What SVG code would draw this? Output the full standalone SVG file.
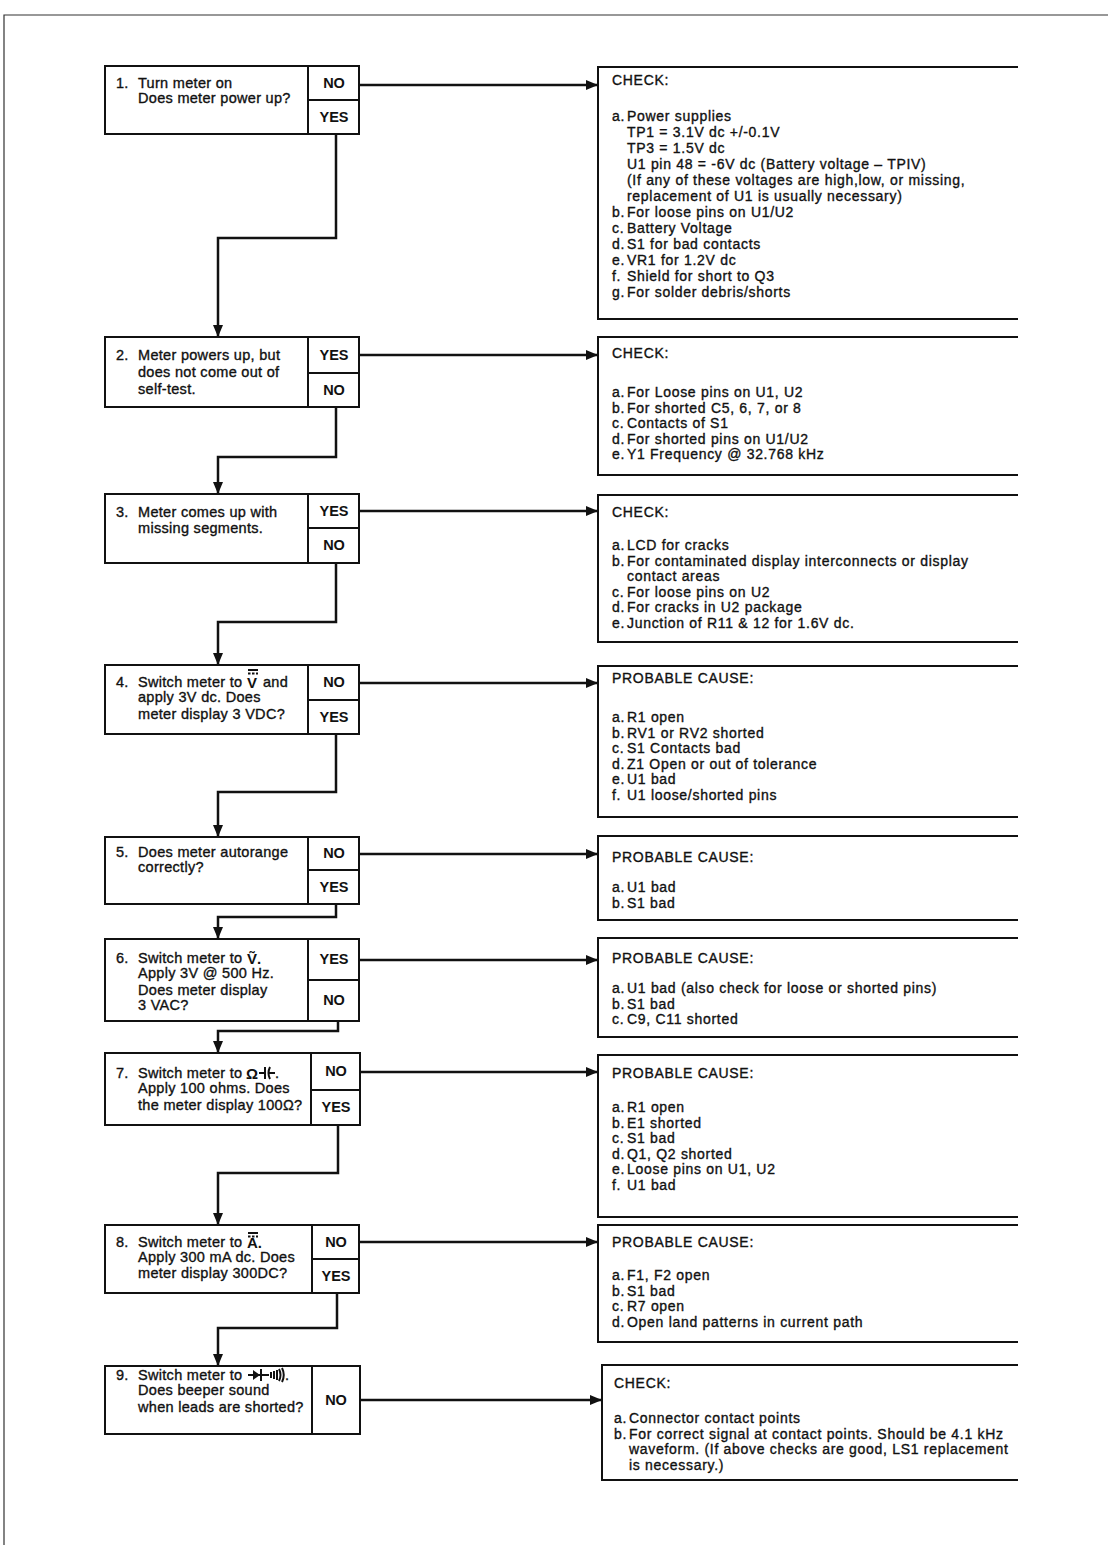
<svg xmlns="http://www.w3.org/2000/svg" width="1108" height="1559" viewBox="0 0 1108 1559">
<style>
.t{font-family:"Liberation Sans",Arial,sans-serif;font-size:14px;letter-spacing:0.7px;fill:#111;stroke:#111;stroke-width:0.35;}
.l{font-family:"Liberation Sans",Arial,sans-serif;font-size:14.5px;letter-spacing:0.3px;fill:#111;stroke:#111;stroke-width:0.35;}
.s{font-family:"Liberation Sans","DejaVu Sans",sans-serif;font-size:15px;font-weight:bold;fill:#111;}
.b{font-family:"Liberation Sans",Arial,sans-serif;font-size:14.5px;font-weight:bold;fill:#111;text-anchor:middle;}
.box{fill:#fff;stroke:#111;stroke-width:2;}
.ln{fill:none;stroke:#111;stroke-width:2;}
.rb{fill:none;stroke:#111;stroke-width:2;}
.c{fill:none;stroke:#111;stroke-width:2.5;}
.frame{fill:none;stroke:#333;stroke-width:1.2;}
</style>
<defs>
<marker id="ah" markerUnits="userSpaceOnUse" markerWidth="12" markerHeight="10" refX="11" refY="5" orient="auto">
<path d="M0,0 L12,5 L0,10 z" fill="#111"/>
</marker>
</defs>
<rect width="1108" height="1559" fill="#fff"/>
<path class="frame" d="M1108,15 H4 V1545"/>

<g id="connectors">
<path class="c" d="M336,134 V238 H218 V336" marker-end="url(#ah)"/>
<path class="c" d="M336,407 V457 H218 V493" marker-end="url(#ah)"/>
<path class="c" d="M336,563 V622 H218 V664" marker-end="url(#ah)"/>
<path class="c" d="M336,734 V792 H218 V836" marker-end="url(#ah)"/>
<path class="c" d="M336,904 V917 H218 V938" marker-end="url(#ah)"/>
<path class="c" d="M338,1021 V1031 H218 V1052" marker-end="url(#ah)"/>
<path class="c" d="M338,1125 V1173 H218 V1224" marker-end="url(#ah)"/>
<path class="c" d="M337,1293 V1328 H218 V1365" marker-end="url(#ah)"/>
<path class="c" d="M359,85 H597" marker-end="url(#ah)"/>
<path class="c" d="M359,355 H597" marker-end="url(#ah)"/>
<path class="c" d="M359,511 H597" marker-end="url(#ah)"/>
<path class="c" d="M359,683 H597" marker-end="url(#ah)"/>
<path class="c" d="M359,854 H597" marker-end="url(#ah)"/>
<path class="c" d="M359,960 H597" marker-end="url(#ah)"/>
<path class="c" d="M360,1072 H597" marker-end="url(#ah)"/>
<path class="c" d="M360,1242 H597" marker-end="url(#ah)"/>
<path class="c" d="M360,1400 H601" marker-end="url(#ah)"/>
</g>

<g id="step1">
<rect class="box" x="105" y="66" width="254" height="68"/>
<path class="ln" d="M308,66 V134 M308,100 H359"/>
<text class="l" x="116" y="88">1.</text>
<text class="l" x="138" y="88">Turn meter on</text>
<text class="l" x="138" y="103">Does meter power up?</text>
<text class="b" x="334" y="88">NO</text>
<text class="b" x="334" y="122">YES</text>
</g>

<g id="step2">
<rect class="box" x="105" y="337" width="254" height="70"/>
<path class="ln" d="M308,337 V407 M308,373 H359"/>
<text class="l" x="116" y="360">2.</text>
<text class="l" x="138" y="360">Meter powers up, but</text>
<text class="l" x="138" y="377">does not come out of</text>
<text class="l" x="138" y="394">self-test.</text>
<text class="b" x="334" y="360">YES</text>
<text class="b" x="334" y="395">NO</text>
</g>

<g id="step3">
<rect class="box" x="105" y="494" width="254" height="69"/>
<path class="ln" d="M308,494 V563 M308,528 H359"/>
<text class="l" x="116" y="517">3.</text>
<text class="l" x="138" y="517">Meter comes up with</text>
<text class="l" x="138" y="533">missing segments.</text>
<text class="b" x="334" y="516">YES</text>
<text class="b" x="334" y="550">NO</text>
</g>

<g id="step4">
<rect class="box" x="105" y="665" width="254" height="69"/>
<path class="ln" d="M308,665 V734 M308,700 H359"/>
<text class="l" x="116" y="687">4.</text>
<text class="l" x="138" y="687">Switch meter to</text>
<text class="s" x="247" y="688">V</text>
<path class="ln" d="M248,670 H258" stroke-width="1.5"/>
<path class="ln" d="M248,673.5 H258" stroke-width="1.5" stroke-dasharray="2.5,1.5"/>
<text class="l" x="263" y="687">and</text>
<text class="l" x="138" y="702">apply 3V dc. Does</text>
<text class="l" x="138" y="719">meter display 3 VDC?</text>
<text class="b" x="334" y="687">NO</text>
<text class="b" x="334" y="722">YES</text>
</g>

<g id="step5">
<rect class="box" x="105" y="837" width="254" height="67"/>
<path class="ln" d="M308,837 V904 M308,870 H359"/>
<text class="l" x="116" y="857">5.</text>
<text class="l" x="138" y="857">Does meter autorange</text>
<text class="l" x="138" y="872">correctly?</text>
<text class="b" x="334" y="858">NO</text>
<text class="b" x="334" y="892">YES</text>
</g>

<g id="step6">
<rect class="box" x="105" y="939" width="254" height="82"/>
<path class="ln" d="M308,939 V1021 M308,980 H359"/>
<text class="l" x="116" y="963">6.</text>
<text class="l" x="138" y="963">Switch meter to</text>
<text class="s" x="247" y="964">Ṽ.</text>
<text class="l" x="138" y="978">Apply 3V @ 500 Hz.</text>
<text class="l" x="138" y="995">Does meter display</text>
<text class="l" x="138" y="1010">3 VAC?</text>
<text class="b" x="334" y="964">YES</text>
<text class="b" x="334" y="1005">NO</text>
</g>

<g id="step7">
<rect class="box" x="105" y="1053" width="255" height="72"/>
<path class="ln" d="M311,1053 V1125 M311,1090 H360"/>
<text class="l" x="116" y="1078">7.</text>
<text class="l" x="138" y="1078">Switch meter to</text>
<text class="s" x="246" y="1079" font-size="16">Ω</text>
<path class="ln" d="M259,1073 H265 M265,1067 V1079 M270,1067 Q267,1073 270,1079 M268,1073 H275" stroke-width="1.5"/>
<text class="l" x="275" y="1078">.</text>
<text class="l" x="138" y="1093">Apply 100 ohms. Does</text>
<text class="l" x="138" y="1110">the meter display 100Ω?</text>
<text class="b" x="336" y="1076">NO</text>
<text class="b" x="336" y="1112">YES</text>
</g>

<g id="step8">
<rect class="box" x="105" y="1225" width="254" height="68"/>
<path class="ln" d="M312,1225 V1293 M312,1259 H359"/>
<text class="l" x="116" y="1247">8.</text>
<text class="l" x="138" y="1247">Switch meter to</text>
<text class="s" x="247" y="1248">A.</text>
<path class="ln" d="M248,1233 H258" stroke-width="1.5"/>
<path class="ln" d="M248,1236.5 H258" stroke-width="1.5" stroke-dasharray="2.5,1.5"/>
<text class="l" x="138" y="1262">Apply 300 mA dc. Does</text>
<text class="l" x="138" y="1278">meter display 300DC?</text>
<text class="b" x="336" y="1247">NO</text>
<text class="b" x="336" y="1281">YES</text>
</g>

<g id="step9">
<rect class="box" x="105" y="1366" width="255" height="68"/>
<path class="ln" d="M312,1366 V1434"/>
<text class="l" x="116" y="1380">9.</text>
<text class="l" x="138" y="1380">Switch meter to</text>
<path class="ln" d="M248,1375 H269" stroke-width="1.5"/>
<path d="M253,1370 L260,1375 L253,1380 z" fill="#111"/>
<path class="ln" d="M261,1369 V1381 M271,1372 V1378 M274,1371 V1379 M277,1370 V1380 M279,1369 Q282,1375 279,1381 M282,1368 Q285.5,1375 282,1382" stroke-width="1.4"/>
<text class="l" x="285" y="1380">.</text>
<text class="l" x="138" y="1395">Does beeper sound</text>
<text class="l" x="138" y="1412">when leads are shorted?</text>
<text class="b" x="336" y="1405">NO</text>
</g>

<g id="result1">
<path class="rb" d="M1018,67 H598 V319 H1018"/>
<text class="t" x="612" y="85">CHECK:</text>
<text class="t" x="612" y="121">a.</text><text class="t" x="627" y="121">Power supplies</text>
<text class="t" x="627" y="137">TP1 = 3.1V dc +/-0.1V</text>
<text class="t" x="627" y="153">TP3 = 1.5V dc</text>
<text class="t" x="627" y="169">U1 pin 48 = -6V dc (Battery voltage – TPIV)</text>
<text class="t" x="627" y="185">(If any of these voltages are high,low, or missing,</text>
<text class="t" x="627" y="201">replacement of U1 is usually necessary)</text>
<text class="t" x="612" y="217">b.</text><text class="t" x="627" y="217">For loose pins on U1/U2</text>
<text class="t" x="612" y="233">c.</text><text class="t" x="627" y="233">Battery Voltage</text>
<text class="t" x="612" y="249">d.</text><text class="t" x="627" y="249">S1 for bad contacts</text>
<text class="t" x="612" y="265">e.</text><text class="t" x="627" y="265">VR1 for 1.2V dc</text>
<text class="t" x="612" y="281">f.</text><text class="t" x="627" y="281">Shield for short to Q3</text>
<text class="t" x="612" y="297">g.</text><text class="t" x="627" y="297">For solder debris/shorts</text>
</g>

<g id="result2">
<path class="rb" d="M1018,337 H598 V475 H1018"/>
<text class="t" x="612" y="358">CHECK:</text>
<text class="t" x="612" y="397">a.</text><text class="t" x="627" y="397">For Loose pins on U1, U2</text>
<text class="t" x="612" y="412.5">b.</text><text class="t" x="627" y="412.5">For shorted C5, 6, 7, or 8</text>
<text class="t" x="612" y="428">c.</text><text class="t" x="627" y="428">Contacts of S1</text>
<text class="t" x="612" y="443.5">d.</text><text class="t" x="627" y="443.5">For shorted pins on U1/U2</text>
<text class="t" x="612" y="459">e.</text><text class="t" x="627" y="459">Y1 Frequency @ 32.768 kHz</text>
</g>

<g id="result3">
<path class="rb" d="M1018,495 H598 V642 H1018"/>
<text class="t" x="612" y="517">CHECK:</text>
<text class="t" x="612" y="550">a.</text><text class="t" x="627" y="550">LCD for cracks</text>
<text class="t" x="612" y="565.5">b.</text><text class="t" x="627" y="565.5">For contaminated display interconnects or display</text>
<text class="t" x="627" y="581">contact areas</text>
<text class="t" x="612" y="596.5">c.</text><text class="t" x="627" y="596.5">For loose pins on U2</text>
<text class="t" x="612" y="612">d.</text><text class="t" x="627" y="612">For cracks in U2 package</text>
<text class="t" x="612" y="627.5">e.</text><text class="t" x="627" y="627.5">Junction of R11 &amp; 12 for 1.6V dc.</text>
</g>

<g id="result4">
<path class="rb" d="M1018,666 H598 V817 H1018"/>
<text class="t" x="612" y="683">PROBABLE CAUSE:</text>
<text class="t" x="612" y="722">a.</text><text class="t" x="627" y="722">R1 open</text>
<text class="t" x="612" y="737.5">b.</text><text class="t" x="627" y="737.5">RV1 or RV2 shorted</text>
<text class="t" x="612" y="753">c.</text><text class="t" x="627" y="753">S1 Contacts bad</text>
<text class="t" x="612" y="768.5">d.</text><text class="t" x="627" y="768.5">Z1 Open or out of tolerance</text>
<text class="t" x="612" y="784">e.</text><text class="t" x="627" y="784">U1 bad</text>
<text class="t" x="612" y="799.5">f.</text><text class="t" x="627" y="799.5">U1 loose/shorted pins</text>
</g>

<g id="result5">
<path class="rb" d="M1018,836 H598 V920 H1018"/>
<text class="t" x="612" y="862">PROBABLE CAUSE:</text>
<text class="t" x="612" y="892">a.</text><text class="t" x="627" y="892">U1 bad</text>
<text class="t" x="612" y="907.5">b.</text><text class="t" x="627" y="907.5">S1 bad</text>
</g>

<g id="result6">
<path class="rb" d="M1018,938 H598 V1037 H1018"/>
<text class="t" x="612" y="963">PROBABLE CAUSE:</text>
<text class="t" x="612" y="993">a.</text><text class="t" x="627" y="993">U1 bad (also check for loose or shorted pins)</text>
<text class="t" x="612" y="1008.5">b.</text><text class="t" x="627" y="1008.5">S1 bad</text>
<text class="t" x="612" y="1024">c.</text><text class="t" x="627" y="1024">C9, C11 shorted</text>
</g>

<g id="result7">
<path class="rb" d="M1018,1055 H598 V1217 H1018"/>
<text class="t" x="612" y="1078">PROBABLE CAUSE:</text>
<text class="t" x="612" y="1112">a.</text><text class="t" x="627" y="1112">R1 open</text>
<text class="t" x="612" y="1127.5">b.</text><text class="t" x="627" y="1127.5">E1 shorted</text>
<text class="t" x="612" y="1143">c.</text><text class="t" x="627" y="1143">S1 bad</text>
<text class="t" x="612" y="1158.5">d.</text><text class="t" x="627" y="1158.5">Q1, Q2 shorted</text>
<text class="t" x="612" y="1174">e.</text><text class="t" x="627" y="1174">Loose pins on U1, U2</text>
<text class="t" x="612" y="1189.5">f.</text><text class="t" x="627" y="1189.5">U1 bad</text>
</g>

<g id="result8">
<path class="rb" d="M1018,1225 H598 V1342 H1018"/>
<text class="t" x="612" y="1247">PROBABLE CAUSE:</text>
<text class="t" x="612" y="1280">a.</text><text class="t" x="627" y="1280">F1, F2 open</text>
<text class="t" x="612" y="1295.5">b.</text><text class="t" x="627" y="1295.5">S1 bad</text>
<text class="t" x="612" y="1311">c.</text><text class="t" x="627" y="1311">R7 open</text>
<text class="t" x="612" y="1326.5">d.</text><text class="t" x="627" y="1326.5">Open land patterns in current path</text>
</g>

<g id="result9">
<path class="rb" d="M1018,1365 H602 V1480 H1018"/>
<text class="t" x="614" y="1388">CHECK:</text>
<text class="t" x="614" y="1423">a.</text><text class="t" x="629" y="1423">Connector contact points</text>
<text class="t" x="614" y="1438.5">b.</text><text class="t" x="629" y="1438.5">For correct signal at contact points. Should be 4.1 kHz</text>
<text class="t" x="629" y="1454">waveform. (If above checks are good, LS1 replacement</text>
<text class="t" x="629" y="1469.5">is necessary.)</text>
</g>
</svg>
